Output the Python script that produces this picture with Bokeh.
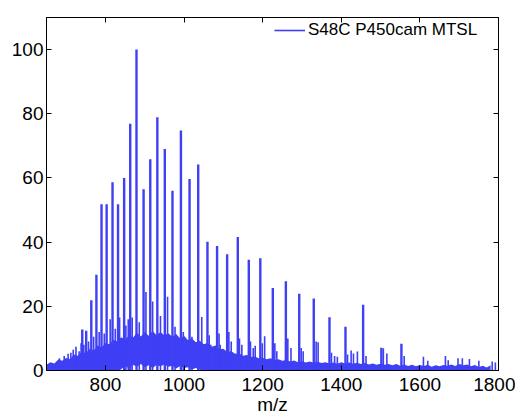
from bokeh.plotting import figure
from bokeh.models import (LinearAxis, FixedTicker, Range1d, ColumnDataSource,
                          Legend, LegendItem, CustomLabelingPolicy)
from bokeh.embed import file_html
from bokeh.resources import INLINE

# ---- data ----
# main charge-state peaks
peak_mz = [741, 751, 764, 777, 790, 803, 818, 832, 847.5, 863, 879, 897, 914,
           932, 951, 970.5, 992, 1014, 1036, 1059.5, 1084, 1109.6, 1136.7,
           1164.7, 1194, 1225.8, 1259, 1293, 1330, 1370, 1410.7, 1455.6,
           1502, 1553]
peak_int = [12.8, 12.4, 21.9, 29.8, 51.8, 51.8, 58.7, 51.8, 60, 76.9, 100,
            56.5, 65.8, 78.9, 69, 56, 74.8, 59.7, 64.2, 40.1, 38.8, 36.2, 41.6,
            34.5, 35, 25.7, 27.8, 23.9, 22.4, 16.6, 13.6, 20.5, 7.1, 8.3]

# secondary / adduct peaks
minor_mz = [683, 695, 705, 712, 718, 725, 733, 738, 745, 757, 770, 784, 797,
            812, 825, 836, 852, 858, 868, 886, 903, 920, 940, 958, 977, 998,
            1020, 1045, 1064, 1068, 1089, 1092, 1114, 1120, 1141, 1147, 1169,
            1176, 1181, 1199, 1205, 1231, 1236, 1264, 1272, 1298, 1303, 1336,
            1341, 1375, 1383, 1390, 1416, 1425, 1431, 1441, 1463, 1507, 1516,
            1560, 1609, 1620, 1665, 1672, 1697, 1708, 1726, 1750, 1784, 1792]
minor_int = [3.8, 4.5, 5.2, 5.5, 6.5, 7.4, 6.0, 8.5, 8.0, 9.0, 10.5, 12.0,
             11.5, 16.0, 13.0, 16.5, 14.0, 16.0, 16.5, 15.0, 24.5, 21.5, 17.0,
             23.0, 13.6, 12.0, 10.5, 16.7, 11.0, 8.0, 11.5, 8.0, 12.0, 9.0,
             10.0, 8.0, 9.0, 7.0, 7.7, 8.5, 10.7, 8.5, 6.0, 10.0, 7.0, 7.0,
             6.0, 9.0, 8.8, 5.5, 4.5, 4.3, 5.0, 6.2, 5.3, 5.9, 4.5, 6.9, 5.3,
             4.5, 4.3, 3.0, 4.5, 3.2, 3.8, 3.8, 3.6, 3.0, 2.8, 2.5]

# dense noise band (upper and lower edge) every 10 m/z from 650 to 1800
band_mz = list(range(650, 1801, 10))
band_hi = [1.8, 2.6, 2.2, 3.4, 3.0, 3.9, 3.6, 5.0, 4.6, 6.0, 5.4, 6.8, 6.2,
           7.8, 7.2, 8.6, 8.2, 9.6, 9.0, 10.4, 9.6, 11.0, 10.2, 11.8, 10.6,
           12.0, 10.8, 12.3, 11.0, 12.0, 10.9, 11.6, 10.5, 11.4, 10.0, 10.8,
           9.4, 10.0, 8.8, 9.3, 8.2, 8.6, 7.4, 7.8, 6.6, 6.8, 5.8, 6.0, 5.2,
           5.4, 4.6, 4.8, 4.2, 4.4, 3.8, 4.0, 3.5, 3.8, 3.2, 3.5, 3.0, 3.3,
           2.8, 3.1, 2.6, 2.9, 2.5, 2.8, 2.4, 2.7, 2.3, 2.6, 2.2, 2.5, 2.1,
           2.6, 2.2, 2.5, 2.1, 2.4, 2.0, 2.3, 1.9, 2.2, 1.8, 2.1, 1.8, 2.0,
           1.6, 2.0, 1.5, 1.9, 1.4, 1.8, 1.3, 1.7, 1.4, 1.8, 1.2, 1.6, 1.3,
           1.7, 1.5, 1.9, 1.4, 2.0, 1.6, 1.9, 1.3, 1.7, 1.1, 1.5, 0.9, 1.6,
           1.2, 1.8]
band_lo = [0, 0, 0, 0, 0, 0, 0, 0, 0, 0, 0, 0, 0, 0, 0, 0, 0, 0, 0,
           0.4, 1.5, 0.6, 1.8, 1.2, 2.0, 1.0, 1.6, 0.8, 1.7, 1.3, 1.9, 1.2,
           1.5, 0.6, 1.4, 0.8, 1.0, 0.3, 0.8, 0.2,
           0, 0, 0, 0, 0, 0, 0, 0, 0, 0, 0, 0, 0, 0, 0, 0, 0, 0, 0, 0, 0, 0,
           0, 0, 0, 0, 0, 0, 0, 0, 0, 0, 0, 0, 0, 0, 0, 0, 0, 0, 0, 0, 0, 0,
           0, 0, 0, 0, 0, 0, 0, 0, 0, 0, 0, 0, 0, 0, 0, 0, 0, 0, 0, 0, 0, 0,
           0, 0, 0, 0, 0, 0, 0, 0]

x_ticks = [800, 1000, 1200, 1400, 1600, 1800]
y_ticks = [0, 20, 40, 60, 80, 100]
series_name = "S48C P450cam MTSL"

# ---- styling ----
BLUE = "#3f3ff5"
FONT = "Liberation Sans"

p = figure(width=515, height=417, output_backend="svg", toolbar_location=None,
           x_range=Range1d(650, 1800), y_range=Range1d(0, 110),
           min_border_left=46, min_border_right=17, min_border_top=17,
           min_border_bottom=43)
p.xgrid.visible = False
p.ygrid.visible = False
p.outline_line_color = "black"
p.outline_line_width = 1

band = ColumnDataSource(dict(x=band_mz, lo=band_lo[:len(band_mz)], hi=band_hi))
p.varea(x="x", y1="lo", y2="hi", source=band, fill_color=BLUE)

minor = ColumnDataSource(dict(x=minor_mz, h=minor_int))
r_minor = p.segment(x0="x", y0=0, x1="x", y1="h", source=minor,
                    line_color=BLUE, line_width=1.6)

peaks = ColumnDataSource(dict(x=peak_mz, h=peak_int))
p.segment(x0="x", y0=0, x1="x", y1="h", source=peaks,
          line_color=BLUE, line_width=2.4)

for ax in (p.xaxis[0], p.yaxis[0]):
    ax.major_tick_in = 5
    ax.major_tick_out = 0
    ax.minor_tick_line_color = None
    ax.axis_line_color = "black"
    ax.major_tick_line_color = "black"
    ax.major_label_text_font = FONT
    ax.major_label_text_font_size = "19px"
    ax.major_label_text_color = "black"

p.xaxis[0].ticker = FixedTicker(ticks=x_ticks)
p.yaxis[0].ticker = FixedTicker(ticks=y_ticks)
p.xaxis[0].major_label_standoff = 7
p.yaxis[0].major_label_standoff = 3
p.xaxis[0].axis_label = "m/z"
p.xaxis[0].axis_label_text_font = FONT
p.xaxis[0].axis_label_text_font_size = "19px"
p.xaxis[0].axis_label_text_font_style = "normal"
p.xaxis[0].axis_label_text_color = "black"
p.xaxis[0].axis_label_standoff = 0

no_labels = CustomLabelingPolicy(code="""
    for (const i of Array.from(indices)) indices.unset(i)
    return indices
""")
top = LinearAxis(ticker=FixedTicker(ticks=x_ticks))
right = LinearAxis(ticker=FixedTicker(ticks=y_ticks))
for ax in (top, right):
    ax.major_tick_in = 5
    ax.major_tick_out = 0
    ax.minor_tick_line_color = None
    ax.major_label_policy = no_labels
    ax.major_label_text_font_size = "1px"
    ax.major_label_standoff = 0
    ax.axis_line_color = "black"
p.add_layout(top, "above")
p.add_layout(right, "right")

legend = Legend(items=[LegendItem(label=series_name, renderers=[r_minor])],
                location=(228, 330), padding=0, margin=0, spacing=0,
                glyph_width=31, glyph_height=20, label_height=20,
                label_standoff=3, label_text_font=FONT,
                label_text_font_size="17px", label_text_color="black",
                background_fill_alpha=0, border_line_alpha=0)
p.add_layout(legend)

open("out.html", "w").write(file_html(p, INLINE))
